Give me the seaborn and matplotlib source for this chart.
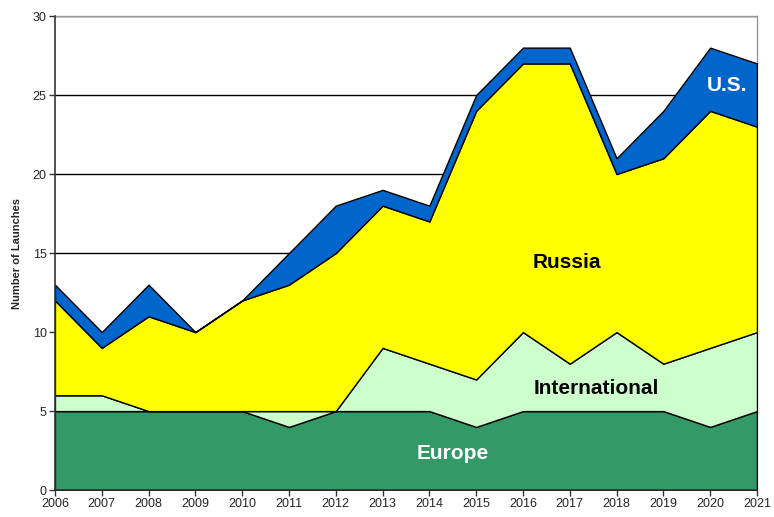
import matplotlib
matplotlib.use("Agg")
import matplotlib.pyplot as plt
import seaborn as sns
import numpy as np

years = list(range(2006, 2022))
europe = [5, 5, 5, 5, 5, 4, 5, 5, 5, 4, 5, 5, 5, 5, 4, 5]
international = [1, 1, 0, 0, 0, 1, 0, 4, 3, 3, 5, 3, 5, 3, 5, 5]
russia = [6, 3, 6, 5, 7, 8, 10, 9, 9, 17, 17, 19, 10, 13, 15, 13]
us = [1, 1, 2, 0, 0, 2, 3, 1, 1, 1, 1, 1, 1, 3, 4, 4]
series_names = ["Europe", "International", "Russia", "U.S."]
colors = ["#339966", "#CCFFCC", "#FFFF00", "#0066CC"]

sns.set_style("white")
plt.rcParams['font.family'] = ['Liberation Sans', 'DejaVu Sans']

fig = plt.figure(figsize=(7.74, 5.17), dpi=100)
ax = fig.add_axes([0.071, 0.052, 0.907, 0.917])

ax.stackplot(years, europe, international, russia, us, colors=colors,
             edgecolor="black", linewidth=1.0, zorder=3)

ax.set_xlim(2006, 2021)
ax.set_ylim(0, 30)
ax.set_xticks(years)
ax.set_xticklabels([str(y) for y in years], fontsize=9)
ax.set_yticks(range(0, 31, 5))
ax.set_yticklabels([str(v) for v in range(0, 31, 5)], fontsize=9)
ax.yaxis.grid(True, color="black", linewidth=1.0, zorder=1)
ax.set_axisbelow(True)
ax.tick_params(axis="both", direction="out", length=4, width=1, color="#333333",
               bottom=True, left=True, pad=2)
ax.set_ylabel("Number of Launches", fontsize=8, fontweight="bold", labelpad=8)

for s in ["left", "bottom"]:
    ax.spines[s].set_color("#333333")
    ax.spines[s].set_linewidth(1.2)
for s in ["top", "right"]:
    ax.spines[s].set_color("#999999")
    ax.spines[s].set_linewidth(1.0)
ax.spines["left"].set_zorder(5)
ax.spines["bottom"].set_zorder(5)

ax.text(2014.5, 2.3, "Europe", color="white", fontsize=15, fontweight="bold",
        ha="center", va="center", zorder=6)
ax.text(2017.56, 6.45, "International", color="black", fontsize=15, fontweight="bold",
        ha="center", va="center", zorder=6)
ax.text(2016.94, 14.4, "Russia", color="black", fontsize=15, fontweight="bold",
        ha="center", va="center", zorder=6)
ax.text(2020.36, 25.6, "U.S.", color="white", fontsize=15, fontweight="bold",
        ha="center", va="center", zorder=6)

fig.savefig("out.png", dpi=100)
